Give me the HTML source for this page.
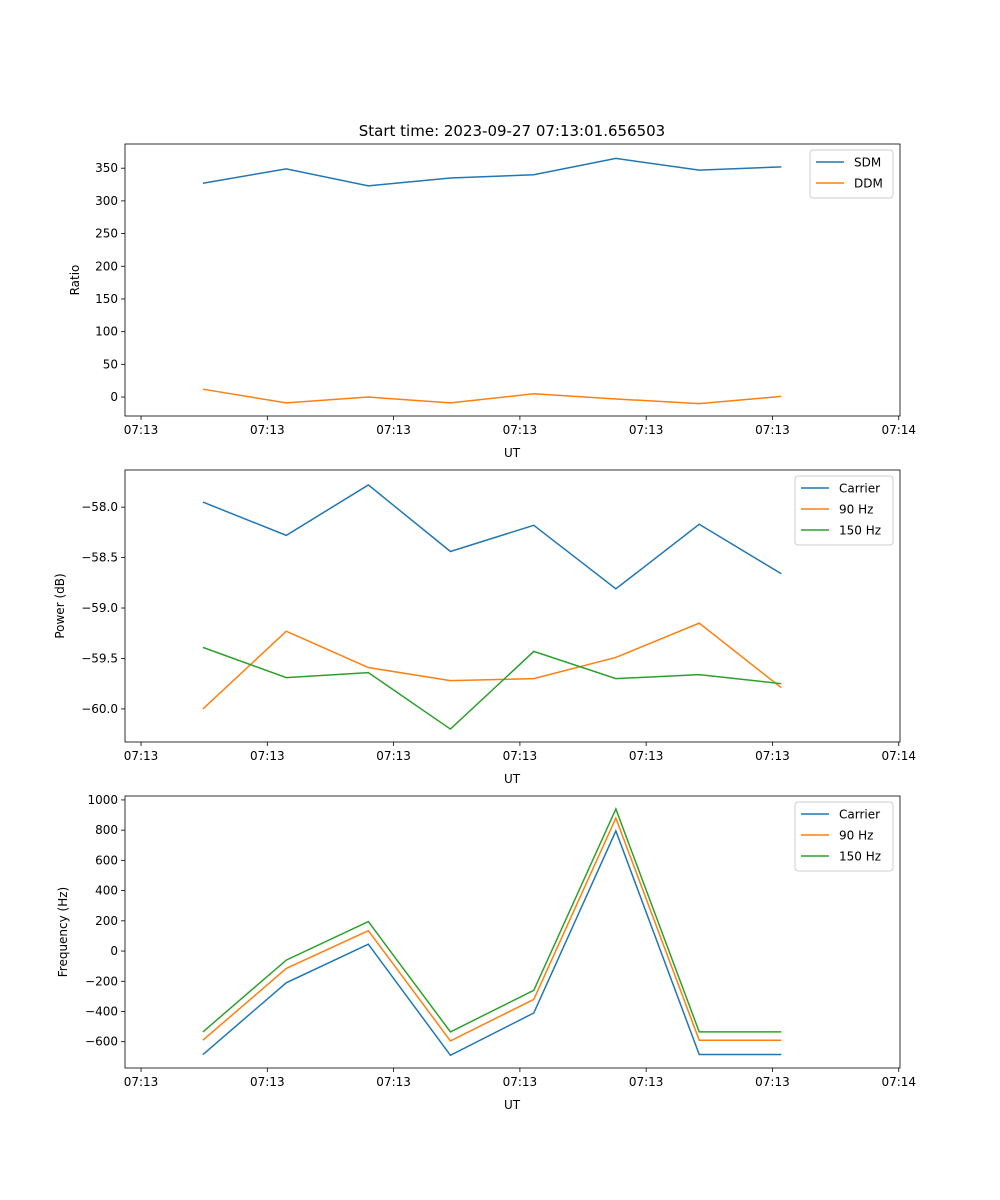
<!DOCTYPE html>
<html><head><meta charset="utf-8"><style>
body{margin:0;background:#fff}
svg{display:block;font-family:"DejaVu Sans","Liberation Sans",sans-serif}
</style></head><body>
<svg id="chart" width="1000" height="1200" viewBox="0 0 1000 1200">
<text x="512" y="136" text-anchor="middle" font-size="15">Start time: 2023-09-27 07:13:01.656503</text>
</svg>
<script>
const times=[4.9,11.5,18.0,24.5,31.1,37.6,44.2,50.7];
const xTicks=[0,10,20,30,40,50,60];
const xTickLabels=["07:13","07:13","07:13","07:13","07:13","07:13","07:14"];
const sdm=[327,349,323,335,340,365,347,352];
const ddm=[12,-9,0,-9,5,-3,-10,1];
const pCarrier=[-57.95,-58.28,-57.78,-58.44,-58.18,-58.81,-58.17,-58.66];
const p90=[-60.0,-59.23,-59.59,-59.72,-59.70,-59.49,-59.15,-59.79];
const p150=[-59.39,-59.69,-59.64,-60.20,-59.43,-59.70,-59.66,-59.75];
const fCarrier=[-685,-210,45,-690,-410,795,-685,-685];
const f90=[-590,-115,135,-595,-320,880,-590,-590];
const f150=[-535,-60,195,-535,-260,940,-535,-535];
const ratioTicks=[0,50,100,150,200,250,300,350];
const powerTicks=[-60.0,-59.5,-59.0,-58.5,-58.0];
const freqTicks=[-600,-400,-200,0,200,400,600,800,1000];

const NS="http://www.w3.org/2000/svg";
const svg=document.getElementById('chart');
function mk(tag,attrs,parent){const e=document.createElementNS(NS,tag);for(const k in attrs)e.setAttribute(k,attrs[k]);(parent||svg).appendChild(e);return e;}
const L=125,R=900;
function xs(t){return L+(t-(-1.27))/(60.1-(-1.27))*(R-L);}
const C=["#1f77b4","#ff7f0e","#2ca02c"];

function panel(name,top,bot,ymin,ymax,yt,fmt,ylabel,ylx,series,legend){
  const g=mk('g',{});
  
  
  const ys=v=>bot-(v-ymin)/(ymax-ymin)*(bot-top);
  series.forEach((s,i)=>{
    const p=mk('polyline',{points:s.data.map((v,j)=>xs(times[j])+','+ys(v)).join(' '),fill:'none',stroke:C[i],'stroke-width':1.5},g);
    
    
  });
  const fr=mk('rect',{x:L,y:top,width:R-L,height:bot-top,fill:'none',stroke:'#000','stroke-width':0.8},g);
  
  
  xTicks.forEach((t,i)=>{
    const x=xs(t);
    mk('line',{x1:x,x2:x,y1:bot,y2:bot+4,stroke:'#000','stroke-width':0.8},g);
    const tx=mk('text',{x:x,y:bot+18,'text-anchor':'middle','font-size':12},g);
    tx.textContent=xTickLabels[i];
    
    
  });
  yt.forEach(v=>{
    const y=ys(v);
    mk('line',{x1:L-4,x2:L,y1:y,y2:y,stroke:'#000','stroke-width':0.8},g);
    const tx=mk('text',{x:L-7,y:y+4,'text-anchor':'end','font-size':12},g);
    tx.textContent=fmt(v);
    
    
  });
  const xl=mk('text',{x:512,y:bot+41,'text-anchor':'middle','font-size':12},g);
  xl.textContent='UT';
  
  
  const yl=mk('text',{x:ylx,y:(top+bot)/2,'text-anchor':'middle','font-size':12,transform:`rotate(-90 ${ylx} ${(top+bot)/2})`},g);
  yl.textContent=ylabel;
  
  
  const lg=mk('g',{},g);
  
  
  mk('rect',{x:legend.x,y:top+6,width:R-7-legend.x,height:series.length*21+6,rx:3,fill:'#fff',stroke:'#ccc','stroke-width':1},lg);
  series.forEach((s,i)=>{
    const y=top+18+i*21;
    mk('line',{x1:legend.x+6,x2:legend.x+34,y1:y,y2:y,stroke:C[i],'stroke-width':1.5},lg);
    const t=mk('text',{x:legend.x+44,y:y+4.5,'font-size':12},lg);
    t.textContent=s.label;
    
    
  });
}
panel('ratio',144,416,-29,387,ratioTicks,v=>v.toString().replace('-','\u2212'),'Ratio',79,
 [{key:'sdm',label:'SDM',data:sdm},{key:'ddm',label:'DDM',data:ddm}],{x:810});
panel('power',470,742,-60.328,-57.632,powerTicks,v=>v.toFixed(1).replace('-','\u2212'),'Power (dB)',64,
 [{key:'carrier',label:'Carrier',data:pCarrier},{key:'90hz',label:'90 Hz',data:p90},{key:'150hz',label:'150 Hz',data:p150}],{x:795});
panel('frequency',796,1068,-774,1026,freqTicks,v=>v.toString().replace('-','\u2212'),'Frequency (Hz)',67,
 [{key:'carrier',label:'Carrier',data:fCarrier},{key:'90hz',label:'90 Hz',data:f90},{key:'150hz',label:'150 Hz',data:f150}],{x:795});
</script>
</body></html>
